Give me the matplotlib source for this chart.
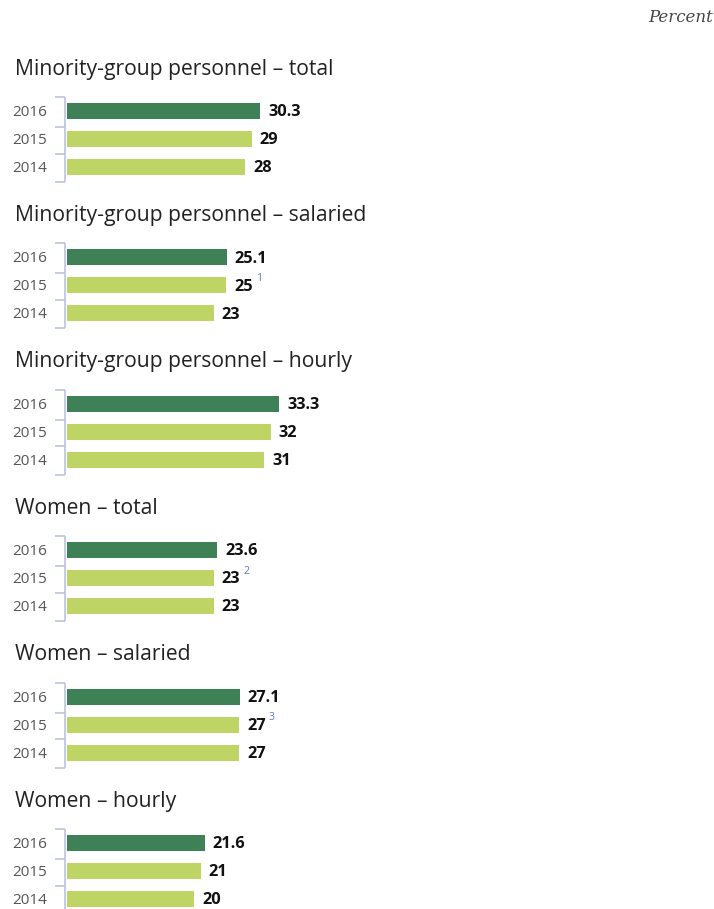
import matplotlib
matplotlib.use("Agg")
import matplotlib.pyplot as plt

titles = ["Minority-group personnel \u2013 total",
          "Minority-group personnel \u2013 salaried",
          "Minority-group personnel \u2013 hourly",
          "Women \u2013 total",
          "Women \u2013 salaried",
          "Women \u2013 hourly"]
years = ["2016", "2015", "2014"]
v2016 = [30.3, 25.1, 33.3, 23.6, 27.1, 21.6]
v2015 = [29, 25, 32, 23, 27, 21]
v2014 = [28, 23, 31, 23, 27, 20]
labels2016 = ["30.3", "25.1", "33.3", "23.6", "27.1", "21.6"]
labels2015 = ["29", "25", "32", "23", "27", "21"]
labels2014 = ["28", "23", "31", "23", "27", "20"]
footnotes2015 = [None, "1", None, "2", "3", None]

W, H = 714, 909
fig = plt.figure(figsize=(W / 100, H / 100), dpi=100)
ax = fig.add_axes([0, 0, 1, 1])
pxu = 6.37
x0 = 67
ax.set_xlim(-x0 / pxu, (W - x0) / pxu)
ax.set_ylim(H, 0)
ax.axis("off")

dark = "#3e8157"
light = "#bed566"
bracket = "#b9c5da"
fn_color = "#5a78c8"
year_color = "#555555"

font = "Open Sans"
group_step = 146.4
first_bar = 111
row_step = 28
bar_h = 16

for g in range(6):
    yb = first_bar + g * group_step
    ax.text(-52 / pxu, yb - 42, titles[g], fontsize=15.2, family=font,
            color="#222222", va="center", ha="left")
    vals = [v2016[g], v2015[g], v2014[g]]
    labs = [labels2016[g], labels2015[g], labels2014[g]]
    cols = [dark, light, light]
    ys = [yb + i * row_step for i in range(3)]
    ax.barh(ys, vals, height=bar_h, left=0, color=cols, edgecolor="none")
    for i in range(3):
        ax.text(-20 / pxu, ys[i] + 1.5, years[i], fontsize=11, family=font,
                color=year_color, va="center", ha="right")
        ax.text(vals[i] + 8 / pxu, ys[i] + 1.2, labs[i], fontsize=11.8, family=font,
                fontweight="bold", color="#111111", va="center", ha="left")
    if footnotes2015[g]:
        ax.text(v2015[g] + 30 / pxu, ys[1] - 7, footnotes2015[g], fontsize=7.5,
                family=font, color=fn_color, va="center", ha="left")
    # bracket
    top = yb - 14
    bot = yb + 2 * row_step + 15
    xl = -1.5 / pxu
    xt = -12 / pxu
    ax.plot([xl, xl], [top, bot], color=bracket, lw=1.2, solid_capstyle="butt")
    for yy in [top, yb + row_step / 2 + 2, yb + 1.5 * row_step + 0.5, bot]:
        ax.plot([xt, xl], [yy, yy], color=bracket, lw=1.2, solid_capstyle="butt")

ax.text((713 - x0) / pxu, 17, "Percent", fontsize=12, family="DejaVu Serif",
        style="italic", color="#444444", va="center", ha="right")

fig.savefig("out.png", dpi=100)
